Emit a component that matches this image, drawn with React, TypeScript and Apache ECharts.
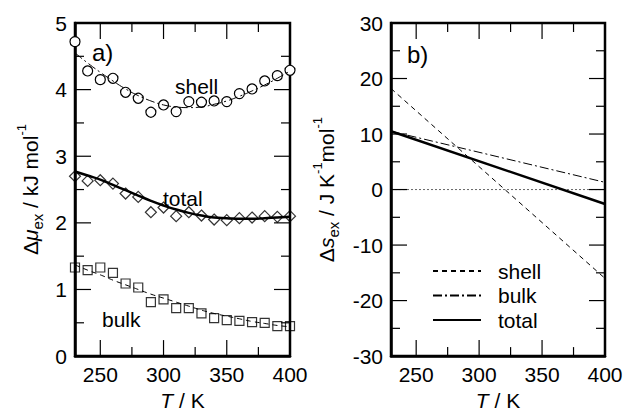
import React, { useEffect, useRef } from "react";
import * as echarts from "echarts";

const temps = [230, 240, 250, 260, 270, 280, 290, 300, 310, 320, 330, 340, 350, 360, 370, 380, 390, 400];
const shellPts = [4.72, 4.28, 4.15, 4.17, 3.96, 3.87, 3.66, 3.77, 3.67, 3.82, 3.81, 3.83, 3.82, 3.94, 4.01, 4.13, 4.21, 4.29];
const totalPts = [2.70, 2.63, 2.64, 2.59, 2.44, 2.39, 2.16, 2.23, 2.10, 2.16, 2.11, 2.05, 2.04, 2.07, 2.08, 2.10, 2.09, 2.10];
const bulkPts = [1.33, 1.29, 1.33, 1.25, 1.09, 1.03, 0.81, 0.85, 0.72, 0.72, 0.64, 0.57, 0.54, 0.53, 0.51, 0.50, 0.45, 0.45];
const shellFit = [4.55, 4.40, 4.26, 4.13, 4.01, 3.91, 3.83, 3.77, 3.74, 3.73, 3.74, 3.78, 3.83, 3.90, 3.98, 4.07, 4.17, 4.28];
const totalFit = [2.77, 2.71, 2.65, 2.57, 2.49, 2.41, 2.33, 2.26, 2.20, 2.15, 2.11, 2.08, 2.07, 2.06, 2.06, 2.07, 2.08, 2.09];
const bulkFit = [1.37, 1.29, 1.22, 1.14, 1.07, 1.00, 0.93, 0.87, 0.81, 0.75, 0.69, 0.64, 0.60, 0.56, 0.52, 0.49, 0.46, 0.44];

const lineT = [230, 400];
const shellS = [18.2, -16.0];
const bulkS = [10.5, 1.3];
const totalS = [10.5, -2.6];
const zeroS = [0, 0];

const xMajorLabels = [250, 300, 350, 400];
const xMajorTicks = [250, 300, 350];
const xMinorTicks = [275, 325, 375];
const muMajorTicks = [1, 2, 3, 4];
const muMinorTicks = [0.5, 1.5, 2.5, 3.5, 4.5];
const sMajorTicks = [-20, -10, 0, 10, 20];
const sMinorTicks = [-25, -15, -5, 5, 15, 25];

const FONT = "Liberation Sans";

const pairs = (xs: number[], ys: number[]) => xs.map((x, i) => [x, ys[i]]);

export default function App() {
  const ref = useRef<HTMLDivElement>(null);
  useEffect(() => {
    if (!ref.current) return;
    const chart = echarts.init(ref.current, null, { renderer: "svg" });
    const axisLine = () => ({ show: true, onZero: false, lineStyle: { color: "#000", width: 2.5 } });
    const rich = {
      a: { fontSize: 21, fontFamily: FONT, color: "#000", lineHeight: 30, verticalAlign: "middle" },
      i: { fontSize: 21, fontFamily: FONT, fontStyle: "italic", color: "#000", lineHeight: 30, verticalAlign: "middle" },
      s: { fontSize: 15, fontFamily: FONT, color: "#000", lineHeight: 30, verticalAlign: "bottom" },
      p: { fontSize: 13, fontFamily: FONT, color: "#000", lineHeight: 30, verticalAlign: "top" },
    };
    const xAxisFor = (g: number) => ({
      type: "value", gridIndex: g, position: "bottom", min: 230, max: 400,
      axisLine: axisLine(), splitLine: { show: false }, axisTick: { show: false },
      axisLabel: { customValues: xMajorLabels, fontSize: 21, color: "#000", margin: 8, fontFamily: FONT },
      name: "{i|T}{a| / K}", nameLocation: "middle", nameGap: 32,
      nameTextStyle: { rich: { i: { fontSize: 21, fontStyle: "italic", fontFamily: FONT, color: "#000" }, a: { fontSize: 21, fontFamily: FONT, color: "#000" } } },
    });
    const yAxisFor = (g: number, min: number, max: number, interval: number, name: string, nameGap: number) => ({
      type: "value", gridIndex: g, position: "left", min, max, interval,
      axisLine: axisLine(), splitLine: { show: false }, axisTick: { show: false },
      axisLabel: { fontSize: 21, color: "#000", margin: 8, fontFamily: FONT },
      name, nameLocation: "middle", nameRotate: 90, nameGap, nameTextStyle: { rich },
    });
    // inward tick marks on all four sides, placed through the axes' own scales
    const tickSeries = (idx: number, xr: number[], yr: number[], xMaj: number[], xMin: number[], yMaj: number[], yMin: number[]) => ({
      type: "custom", xAxisIndex: idx, yAxisIndex: idx, silent: true, z: 10, clip: false,
      dimensions: ["v", "d", "len"], encode: { x: 0, y: 1 },
      data: [
        ...xMaj.map((v) => [v, 0, 16]), ...xMin.map((v) => [v, 0, 9]),
        ...yMaj.map((v) => [v, 1, 16]), ...yMin.map((v) => [v, 1, 9]),
      ],
      renderItem: (_p: any, api: any) => {
        const v = api.value(0), d = api.value(1), len = api.value(2);
        const style = { stroke: "#000", lineWidth: 1.2 };
        if (d === 0) {
          const b = api.coord([v, yr[0]]);
          const t = api.coord([v, yr[1]]);
          return {
            type: "group", children: [
              { type: "line", shape: { x1: b[0], y1: b[1], x2: b[0], y2: b[1] - len }, style },
              { type: "line", shape: { x1: t[0], y1: t[1], x2: t[0], y2: t[1] + len }, style },
            ],
          };
        }
        const l = api.coord([xr[0], v]);
        const r = api.coord([xr[1], v]);
        return {
          type: "group", children: [
            { type: "line", shape: { x1: l[0], y1: l[1], x2: l[0] + len, y2: l[1] }, style },
            { type: "line", shape: { x1: r[0], y1: r[1], x2: r[0] - len, y2: r[1] }, style },
          ],
        };
      },
    });
    const dashDot = [9, 3, 2, 3];
    const blackItem = { color: "#000" };
    const frame = { show: true, borderColor: "#000", borderWidth: 2.5, backgroundColor: "rgba(0,0,0,0)" };
    const option: any = {
      animation: false,
      textStyle: { fontFamily: FONT },
      grid: [
        { left: 75, top: 23, width: 215, height: 340, ...frame },
        { left: 391, top: 23, width: 214, height: 340, ...frame },
      ],
      xAxis: [xAxisFor(0), xAxisFor(1)],
      yAxis: [
        yAxisFor(0, 0, 5, 1, "{a|Δ}{i|μ}{s|ex}{a| / kJ mol}{p|-1}", 30),
        yAxisFor(1, -30, 30, 10, "{a|Δ}{i|s}{s|ex}{a| / J K}{p|-1}{a|mol}{p|-1}", 50),
      ],
      legend: {
        orient: "vertical", left: 427, top: 255, itemWidth: 48, itemHeight: 12, itemGap: 2.5,
        data: ["shell", "bulk", "total"],
        itemStyle: { opacity: 0 },
        textStyle: { fontSize: 21, lineHeight: 22, color: "#000", fontFamily: FONT, padding: [0, 0, 0, 12] },
      },
      graphic: [
        { type: "text", x: 92, y: 40, style: { text: "a)", fontSize: 24, fontFamily: FONT, fill: "#000" } },
        { type: "text", x: 175, y: 76, style: { text: "shell", fontSize: 21, fontFamily: FONT, fill: "#000" } },
        { type: "text", x: 163, y: 188, style: { text: "total", fontSize: 21, fontFamily: FONT, fill: "#000" } },
        { type: "text", x: 102, y: 309, style: { text: "bulk", fontSize: 21, fontFamily: FONT, fill: "#000" } },
        { type: "text", x: 407, y: 42, style: { text: "b)", fontSize: 24, fontFamily: FONT, fill: "#000" } },
      ],
      series: [
        tickSeries(0, [230, 400], [0, 5], xMajorTicks, xMinorTicks, muMajorTicks, muMinorTicks),
        tickSeries(1, [230, 400], [-30, 30], xMajorTicks, xMinorTicks, sMajorTicks, sMinorTicks),
        { name: "shell fit a", type: "line", xAxisIndex: 0, yAxisIndex: 0, data: pairs(temps, shellFit), smooth: true, symbol: "none", itemStyle: blackItem, lineStyle: { color: "#000", width: 1, type: dashDot } },
        { name: "total fit a", type: "line", xAxisIndex: 0, yAxisIndex: 0, data: pairs(temps, totalFit), smooth: true, symbol: "none", itemStyle: blackItem, lineStyle: { color: "#000", width: 2.5 } },
        { name: "bulk fit a", type: "line", xAxisIndex: 0, yAxisIndex: 0, data: pairs(temps, bulkFit), smooth: true, symbol: "none", itemStyle: blackItem, lineStyle: { color: "#000", width: 1, type: [5, 4] } },
        { name: "shell pts", type: "scatter", xAxisIndex: 0, yAxisIndex: 0, data: pairs(temps, shellPts), symbol: "circle", symbolSize: 10, itemStyle: { color: "#fff", borderColor: "#000", borderWidth: 1.2, opacity: 1 } },
        { name: "total pts", type: "scatter", xAxisIndex: 0, yAxisIndex: 0, data: pairs(temps, totalPts), symbol: "diamond", symbolSize: 11, itemStyle: { color: "rgba(0,0,0,0)", borderColor: "#000", borderWidth: 1.2 } },
        { name: "bulk pts", type: "scatter", xAxisIndex: 0, yAxisIndex: 0, data: pairs(temps, bulkPts), symbol: "rect", symbolSize: 9, itemStyle: { color: "rgba(0,0,0,0)", borderColor: "#000", borderWidth: 1.2 } },
        { name: "zero", type: "line", xAxisIndex: 1, yAxisIndex: 1, data: pairs(lineT, zeroS), symbol: "none", itemStyle: blackItem, lineStyle: { color: "#666", width: 1, type: [2, 2] } },
        { name: "shell", type: "line", xAxisIndex: 1, yAxisIndex: 1, data: pairs(lineT, shellS), symbol: "none", itemStyle: blackItem, lineStyle: { color: "#000", width: 1, type: [5, 4] } },
        { name: "bulk", type: "line", xAxisIndex: 1, yAxisIndex: 1, data: pairs(lineT, bulkS), symbol: "none", itemStyle: blackItem, lineStyle: { color: "#000", width: 1, type: dashDot } },
        { name: "total", type: "line", xAxisIndex: 1, yAxisIndex: 1, data: pairs(lineT, totalS), symbol: "none", itemStyle: blackItem, lineStyle: { color: "#000", width: 2.5 } },
      ],
    };
    chart.setOption(option);
    return () => chart.dispose();
  }, []);
  return <div ref={ref} style={{ position: "absolute", left: 0, top: 0, width: 626, height: 416, background: "#fff" }} />;
}
